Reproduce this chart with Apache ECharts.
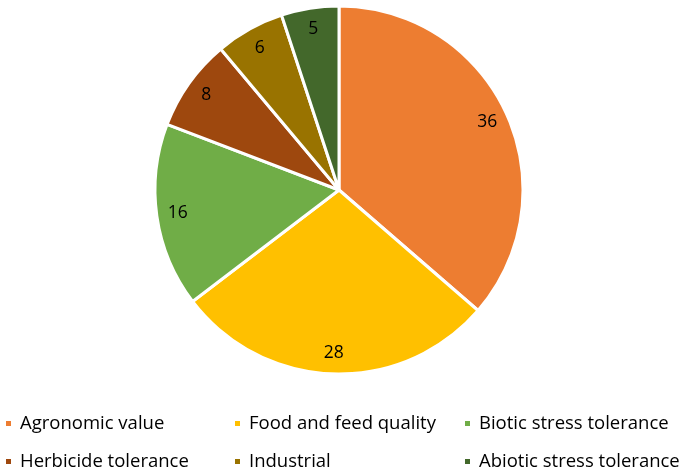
<!DOCTYPE html>
<html><head><meta charset="utf-8">
<script src="https://cdn.jsdelivr.net/npm/echarts@6/dist/echarts.min.js"></script>
<style>html,body{margin:0;padding:0;background:#fff}#c{width:685px;height:476px}</style>
</head><body><div id="c"></div>
<script>
const categories = ['Agronomic value','Food and feed quality','Biotic stress tolerance','Herbicide tolerance','Industrial','Abiotic stress tolerance'];
const values = [36, 28, 16, 8, 6, 5];
const colors = ['#ED7D31','#FFC000','#70AD47','#9E480E','#997300','#43682B'];

const data = categories.map((n,i)=>({name:n, value:values[i], itemStyle:{color:colors[i]}}));
const font = '"Open Sans", sans-serif';
const legendCols = [[0,3],[1,4],[2,5]];
const legendLeft = [4, 233, 463];
const chart = echarts.init(document.getElementById('c'));
chart.setOption({
  animation:false,
  color: colors,
  legend: legendCols.map((idx,k)=>({
    orient:'vertical', left:legendLeft[k], top:414, padding:0, itemGap:19,
    icon:'rect', itemWidth:7, itemHeight:7,
    textStyle:{fontFamily:font, fontSize:18.5, color:'#000', padding:[0,0,0,3]},
    data: idx.map(i=>categories[i])
  })),
  series:[{
    type:'pie', center:[339,190], radius:[0,184], startAngle:90, clockwise:true,
    label:{show:false}, labelLine:{show:false},
    itemStyle:{borderColor:'#fff', borderWidth:3},
    data
  },{
    type:'pie', center:[339,190], radius:[136,184], startAngle:90, clockwise:true, silent:true,
    legendHoverLink:false,
    itemStyle:{color:'rgba(0,0,0,0)'},
    label:{show:true, position:'inside', formatter:'{c}', fontFamily:font, fontSize:17.5, color:'#000'},
    labelLine:{show:false},
    data: categories.map((n,i)=>({name:n+' ', value:values[i]}))
  }]
});
</script></body></html>
